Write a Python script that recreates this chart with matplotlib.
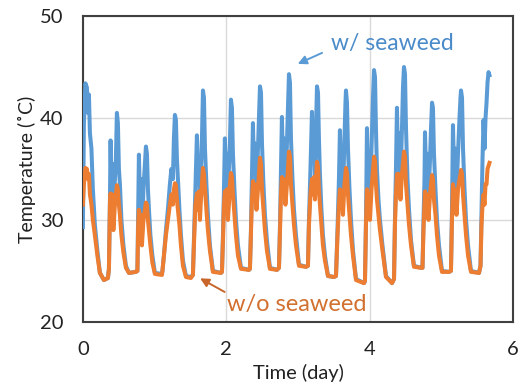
import matplotlib
matplotlib.use('Agg')
import matplotlib.pyplot as plt

plt.rcParams['font.family'] = ['Lato', 'DejaVu Sans']

# Time (day) and temperature readings (deg C)
time_day = [
    0.000, 0.014, 0.035, 0.056, 0.070, 0.084, 0.098, 0.119, 0.139, 0.167, 0.202, 0.237, 0.293, 0.349,
    0.363, 0.377, 0.386, 0.397, 0.411, 0.425, 0.446, 0.460, 0.474, 0.488, 0.502, 0.516, 0.537, 0.565, 0.600, 0.642, 0.739,
    0.760, 0.771, 0.781, 0.795, 0.809, 0.823, 0.844, 0.865, 0.879, 0.893, 0.907, 0.921, 0.941, 0.969, 1.004, 1.102,
    1.109, 1.130, 1.158, 1.185, 1.213, 1.234, 1.255, 1.269, 1.283, 1.297, 1.311, 1.325, 1.346, 1.367, 1.395, 1.437, 1.506,
    1.534, 1.548, 1.569, 1.590, 1.604, 1.618, 1.632, 1.646, 1.660, 1.674, 1.688, 1.702, 1.722, 1.743, 1.771, 1.813, 1.925,
    1.939, 1.953, 1.967, 1.980, 1.994, 2.008, 2.022, 2.036, 2.050, 2.064, 2.078, 2.092, 2.113, 2.134, 2.162, 2.204, 2.315,
    2.329, 2.343, 2.357, 2.371, 2.385, 2.399, 2.420, 2.441, 2.455, 2.469, 2.483, 2.497, 2.517, 2.538, 2.566, 2.608, 2.706,
    2.734, 2.748, 2.762, 2.775, 2.789, 2.803, 2.824, 2.845, 2.859, 2.873, 2.887, 2.901, 2.922, 2.943, 2.971, 3.013, 3.110,
    3.138, 3.152, 3.173, 3.194, 3.208, 3.222, 3.236, 3.250, 3.264, 3.278, 3.291, 3.305, 3.326, 3.347, 3.375, 3.417, 3.501,
    3.529, 3.550, 3.570, 3.584, 3.598, 3.612, 3.626, 3.647, 3.661, 3.668, 3.682, 3.696, 3.717, 3.738, 3.766, 3.808, 3.919,
    3.933, 3.947, 3.961, 3.975, 3.989, 4.003, 4.024, 4.045, 4.059, 4.073, 4.086, 4.100, 4.121, 4.142, 4.177, 4.226, 4.310,
    4.338, 4.351, 4.365, 4.379, 4.393, 4.407, 4.428, 4.449, 4.463, 4.477, 4.491, 4.505, 4.526, 4.547, 4.575, 4.616, 4.714,
    4.735, 4.749, 4.763, 4.770, 4.784, 4.798, 4.819, 4.840, 4.854, 4.868, 4.881, 4.895, 4.916, 4.937, 4.965, 5.007, 5.105,
    5.132, 5.146, 5.160, 5.174, 5.188, 5.209, 5.230, 5.251, 5.265, 5.272, 5.286, 5.300, 5.321, 5.342, 5.370, 5.411, 5.523,
    5.544, 5.558, 5.572, 5.586, 5.600, 5.614, 5.628, 5.642, 5.656, 5.669,
]

temp_with_seaweed = [
    29.3, 39.5, 43.4, 43.0, 40.5, 42.3, 38.5, 37.0, 33.0, 29.5, 27.0, 24.8, 24.1, 24.3,
    25.2, 32.0, 37.8, 33.0, 35.5, 29.5, 34.0, 36.0, 40.5, 39.5, 35.0, 33.5, 30.0, 27.5, 25.5, 24.8, 24.9,
    25.0, 31.0, 36.4, 32.0, 34.0, 28.5, 33.0, 35.5, 37.2, 36.5, 33.0, 31.0, 28.5, 26.5, 24.8, 24.7,
    25.0, 26.5, 29.0, 31.0, 33.5, 35.0, 34.0, 38.0, 40.3, 39.8, 36.0, 34.0, 31.0, 28.5, 26.0, 24.5, 24.4,
    24.6, 28.0, 33.0, 38.3, 34.0, 36.0, 31.5, 35.0, 38.0, 42.7, 42.0, 37.0, 33.5, 30.5, 27.5, 25.0, 24.8,
    24.9, 28.5, 33.0, 38.0, 34.0, 36.5, 32.0, 35.0, 37.5, 41.8, 41.0, 36.5, 33.0, 30.0, 27.5, 25.3, 25.1,
    25.2, 29.0, 34.0, 39.5, 35.0, 37.5, 33.0, 37.0, 40.0, 43.1, 42.5, 37.5, 33.5, 30.5, 28.0, 25.3, 25.1,
    25.3, 29.5, 35.0, 40.1, 35.5, 38.0, 33.0, 37.5, 41.0, 44.3, 43.5, 38.0, 34.0, 31.0, 28.5, 25.6, 25.4,
    25.5, 30.0, 35.0, 40.6, 36.0, 38.5, 34.0, 39.0, 43.1, 42.5, 38.0, 34.5, 31.0, 28.5, 26.5, 24.5, 24.4,
    24.5, 29.0, 34.0, 38.8, 35.0, 37.0, 32.5, 38.0, 41.5, 42.7, 41.5, 37.0, 33.0, 30.0, 27.0, 24.2, 23.8,
    24.0, 30.0, 39.0, 34.0, 36.0, 31.5, 37.0, 42.0, 44.7, 44.0, 39.0, 35.0, 32.0, 30.0, 27.5, 24.5, 23.8,
    24.2, 30.0, 35.0, 41.0, 36.0, 38.5, 34.0, 39.0, 43.0, 45.0, 44.3, 39.0, 34.0, 31.0, 28.0, 25.5, 25.3,
    25.3, 30.0, 34.0, 38.6, 34.5, 36.5, 32.0, 36.0, 39.0, 41.5, 41.0, 36.5, 33.0, 30.0, 27.5, 25.0, 24.9,
    25.0, 31.0, 39.3, 35.0, 37.0, 32.5, 36.5, 40.0, 42.0, 42.7, 42.0, 37.0, 33.0, 30.0, 27.5, 25.0, 24.8,
    25.5, 31.0, 36.0, 39.8, 37.0, 40.0, 41.5, 43.5, 44.5, 44.2,
]

temp_without_seaweed = [
    31.5, 33.5, 35.1, 35.0, 34.0, 34.5, 32.5, 31.5, 30.0, 28.5, 26.5, 24.8, 24.1, 24.3,
    25.2, 31.5, 32.6, 31.0, 32.5, 29.0, 31.5, 32.5, 33.4, 33.0, 31.5, 30.5, 28.5, 26.8, 25.3, 24.8, 24.9,
    25.0, 29.5, 31.0, 29.5, 30.5, 27.5, 30.0, 31.0, 31.7, 31.5, 30.0, 29.0, 27.5, 25.8, 24.7, 24.6,
    25.0, 26.5, 28.5, 30.0, 31.5, 32.5, 31.5, 33.0, 33.6, 33.4, 32.0, 31.0, 29.5, 27.5, 25.5, 24.4, 24.3,
    24.6, 27.5, 31.5, 32.6, 31.0, 32.8, 30.0, 32.0, 33.5, 35.1, 34.5, 33.0, 31.0, 29.0, 27.0, 24.9, 24.8,
    24.9, 28.0, 31.5, 32.8, 31.0, 33.0, 30.0, 31.5, 33.5, 34.6, 34.2, 32.5, 30.5, 28.5, 26.5, 25.2, 25.1,
    25.2, 28.5, 32.0, 33.8, 32.0, 33.5, 31.0, 33.0, 34.5, 36.1, 35.5, 33.0, 31.0, 29.0, 27.0, 25.2, 25.1,
    25.3, 29.0, 32.5, 34.2, 32.5, 34.0, 31.5, 33.5, 35.0, 36.7, 36.2, 33.5, 31.5, 29.5, 27.5, 25.5, 25.4,
    25.5, 29.5, 32.5, 34.0, 32.5, 34.2, 32.0, 34.0, 35.7, 35.2, 33.0, 31.5, 29.5, 27.5, 26.0, 24.5, 24.4,
    24.5, 28.5, 31.5, 33.0, 31.5, 32.8, 30.5, 33.5, 34.5, 35.1, 34.6, 32.5, 30.5, 28.5, 26.5, 24.1, 23.8,
    24.0, 29.5, 33.0, 31.5, 32.5, 30.0, 33.0, 35.0, 36.2, 35.8, 33.5, 32.0, 30.5, 29.0, 27.0, 24.4, 23.8,
    24.2, 29.5, 32.5, 34.5, 33.0, 34.5, 32.0, 34.5, 35.5, 36.7, 36.2, 33.5, 31.5, 29.5, 27.5, 25.4, 25.3,
    25.3, 29.0, 31.5, 32.8, 31.0, 32.5, 30.0, 32.5, 33.5, 34.4, 34.0, 32.0, 30.5, 28.5, 26.5, 24.9, 24.9,
    25.0, 30.0, 33.5, 31.5, 33.0, 30.5, 33.0, 34.0, 34.5, 34.9, 34.5, 32.5, 30.5, 28.5, 26.5, 24.9, 24.8,
    25.5, 29.5, 31.5, 32.5, 31.5, 33.5, 33.5, 35.0, 35.3, 35.6,
]

x_ticks = [0, 2, 4, 6]
y_ticks = [20, 30, 40, 50]

blue = '#5B9BD5'
orange = '#ED7D31'

fig = plt.figure(figsize=(5.28, 3.92), dpi=100)
ax = fig.add_axes([0.157, 0.179, 0.815, 0.780])

ax.plot(time_day, temp_with_seaweed, color=blue, linewidth=2.9, zorder=3)
ax.plot(time_day, temp_without_seaweed, color=orange, linewidth=2.9, zorder=4)

ax.set_xlim(0, 6)
ax.set_ylim(20, 50)
ax.set_xticks(x_ticks)
ax.set_yticks(y_ticks)
ax.tick_params(length=0, labelsize=14.5, pad=14, colors='#222222')
ax.grid(True, color='#D9D9D9', linewidth=1.0)
ax.set_axisbelow(True)
for sp in ax.spines.values():
    sp.set_color('#404040')
    sp.set_linewidth(1.5)

ax.set_xlabel('Time (day)', fontsize=14.5, labelpad=4, color='#222222')
ax.set_ylabel('Temperature (˚C)', fontsize=14, labelpad=3, color='#222222')

# Series labels with arrows
ax.annotate('', xy=(2.96, 45.2), xytext=(3.37, 46.5),
            arrowprops=dict(arrowstyle='-|>', color=blue, lw=1.4, mutation_scale=13), zorder=5)
ax.text(4.31, 47.3, 'w/ seaweed', color='#4A8BC9', fontsize=16.5, ha='center', va='center', zorder=5)

ax.annotate('', xy=(1.60, 24.4), xytext=(2.01, 22.8),
            arrowprops=dict(arrowstyle='-|>', color='#C8652A', lw=1.4, mutation_scale=13), zorder=5)
ax.text(2.98, 21.7, 'w/o seaweed', color='#D2702F', fontsize=17, ha='center', va='center', zorder=5)

fig.savefig('out.png', dpi=100)
